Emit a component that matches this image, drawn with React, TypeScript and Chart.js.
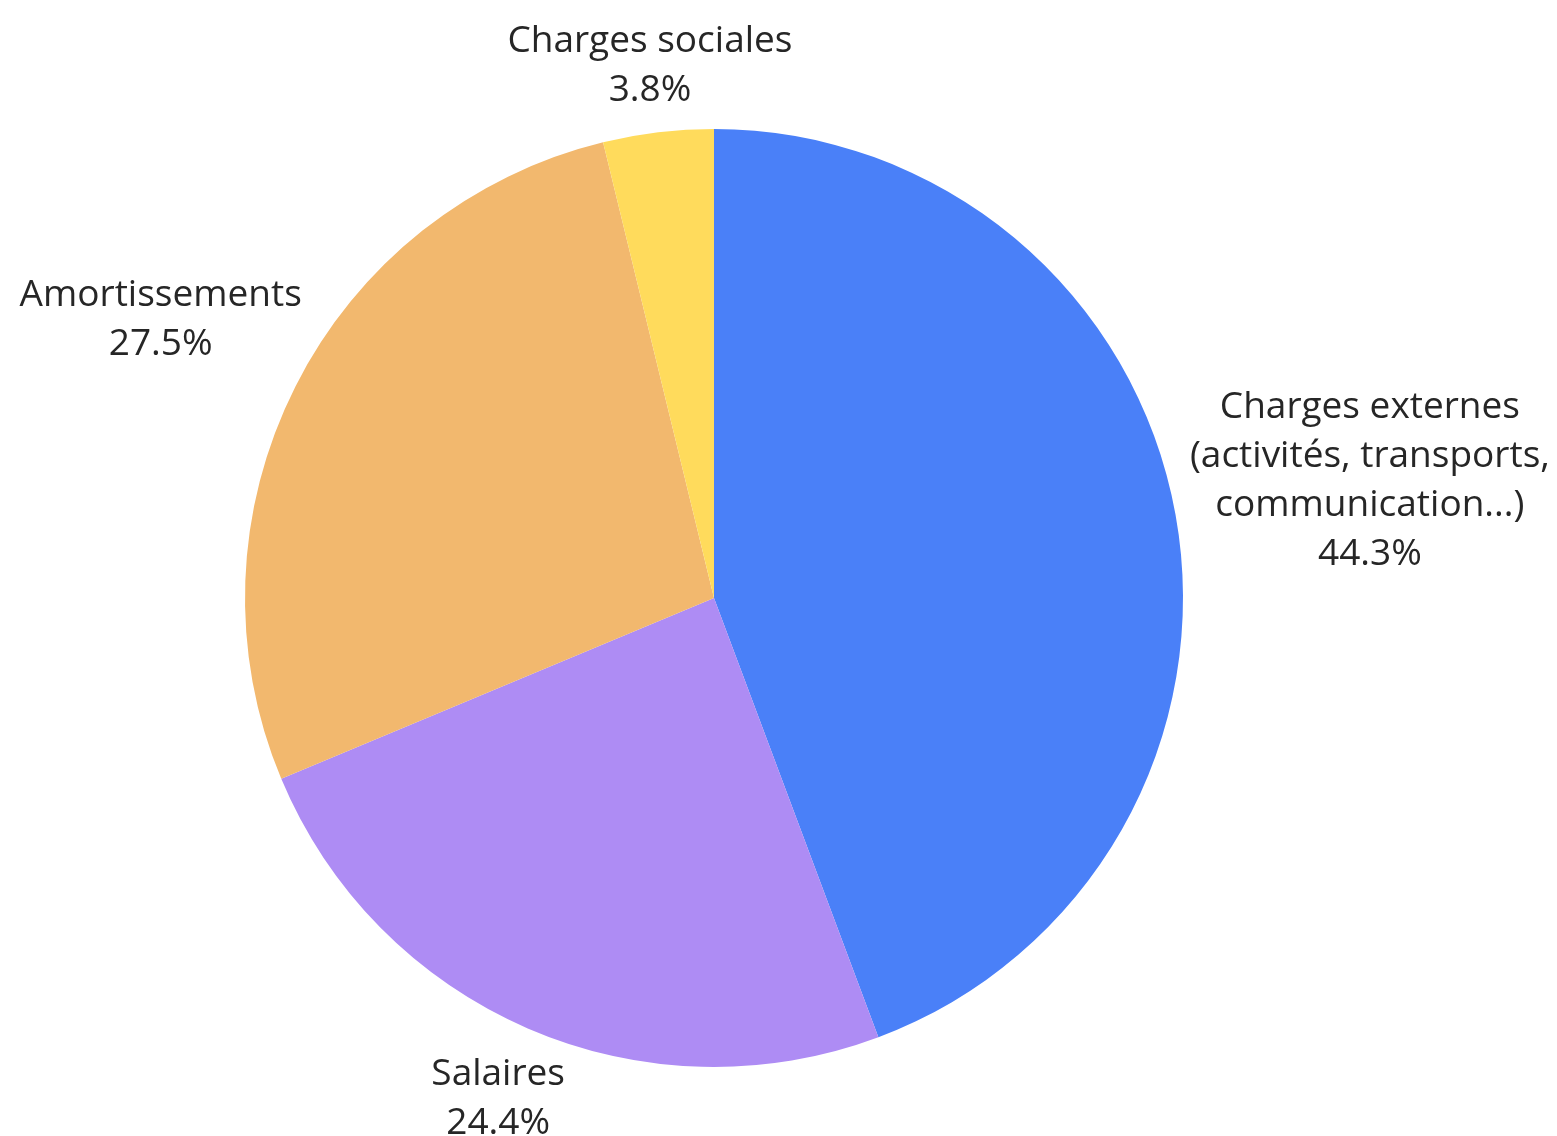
import React, { useEffect, useRef } from "react";
import { Chart, registerables } from "chart.js";

Chart.register(...registerables);

const categories: string[][] = [
  ["Charges externes", "(activités, transports,", "communication...)"],
  ["Salaires"],
  ["Amortissements"],
  ["Charges sociales"],
];
const values: number[] = [44.3, 24.4, 27.5, 3.8];
const colors: string[] = ["#4A80F8", "#AE8CF4", "#F2B86E", "#FFDB5C"];

const FONT_SIZE = 37;
const LINE_HEIGHT = 49;
const GAP = 3;

const outsideLabels = {
  id: "outsideLabels",
  afterDraw(chart: any) {
    const ctx = chart.ctx as CanvasRenderingContext2D;
    const meta = chart.getDatasetMeta(0);
    const data = chart.data.datasets[0].data as number[];
    const total = data.reduce((a, b) => a + b, 0);
    ctx.save();
    ctx.font = `${FONT_SIZE}px "Open Sans"`;
    ctx.fillStyle = "#262626";
    ctx.textAlign = "center";
    ctx.textBaseline = "middle";
    meta.data.forEach((arc: any, i: number) => {
      const { x, y, startAngle, endAngle, outerRadius } = arc.getProps(
        ["x", "y", "startAngle", "endAngle", "outerRadius"],
        true
      );
      const mid = (startAngle + endAngle) / 2;
      const dx = Math.cos(mid);
      const dy = Math.sin(mid);
      const lines = [...categories[i], ((data[i] / total) * 100).toFixed(1) + "%"];
      const halfW = Math.max(...lines.map((l) => ctx.measureText(l).width)) / 2;
      const halfH = (lines.length * LINE_HEIGHT) / 2;
      const L = Math.abs(dx) * halfW + Math.abs(dy) * halfH + GAP;
      const cx = x + dx * (outerRadius + L);
      const cy = y + dy * (outerRadius + L);
      lines.forEach((line, k) => {
        const ly = cy - halfH + LINE_HEIGHT * (k + 0.5) + 2;
        ctx.fillText(line, cx, ly);
      });
    });
    ctx.restore();
  },
};

export default function App() {
  const ref = useRef<HTMLCanvasElement>(null);
  useEffect(() => {
    document.body.style.margin = "0";
    const chart = new Chart(ref.current!, {
      type: "pie",
      data: {
        labels: categories.map((c) => c.join(" ")),
        datasets: [
          {
            data: values,
            backgroundColor: colors,
            borderWidth: 0,
          },
        ],
      },
      options: {
        animation: false,
        responsive: false,
        devicePixelRatio: 1,
        layout: { padding: { left: 245, right: 374, top: 129, bottom: 69 } },
        plugins: {
          legend: { display: false },
          tooltip: { enabled: false },
        },
      },
      plugins: [outsideLabels],
    });
    return () => chart.destroy();
  }, []);
  return (
    <div style={{ width: 1557, height: 1136, background: "#fff" }}>
      <canvas ref={ref} width={1557} height={1136} style={{ display: "block" }} />
    </div>
  );
}
